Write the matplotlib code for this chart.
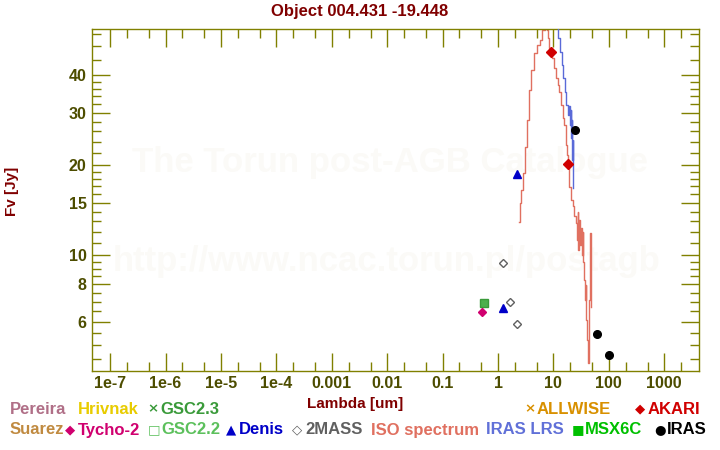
import matplotlib
matplotlib.use("Agg")
import matplotlib.pyplot as plt
from matplotlib.ticker import FixedLocator, NullFormatter

# data
iso_wl = [2.42, 2.49, 2.67, 2.86, 3.16, 3.43, 3.77, 4.10, 4.65, 5.32, 5.96, 6.55, 7.3,
          7.76, 8.09, 8.68, 9.96, 10.7, 11.5, 12.3, 13.2, 14.1, 15.1, 16.2, 16.9, 17.4,
          18.0, 18.6, 19.9, 21.4, 22.9, 24.5, 26.4, 27.2, 27.8, 28.7, 29.6, 30.6, 31.5,
          32.8, 34.2, 35.4, 36.4, 37.6, 38.8, 40.1, 41.3, 42.7, 43.9, 45.2, 46.4, 47.3]
iso_fx = [12.9, 14.9, 16.5, 18.8, 23.1, 28.3, 35.7, 41.7, 47.4, 50.5, 52.5, 56.7, 60.0,
          56.7, 53.2, 49.2, 45.6, 42.2, 39.1, 37.1, 35.3, 31.8, 28.7, 27.3, 25.3, 23.4,
          21.6, 20.2, 16.9, 15.3, 14.6, 13.5, 12.8, 11.25, 14.0, 10.4, 13.1, 10.8, 12.3,
          10.0, 12.0, 9.5, 8.26, 7.09, 7.96, 6.08, 5.21, 4.37, 6.08, 7.09, 11.9, 6.7]

lrs_wl = [11.8, 12.6, 14.1, 14.7, 15.5, 16.4, 17.4, 18.6, 19.4, 19.9, 20.8, 21.4, 21.8, 22.3, 22.6, 22.9]
lrs_fx = [60.0, 53.3, 48.0, 43.4, 39.1, 35.3, 31.8, 29.5, 31.6, 27.3, 30.6, 24.7, 28.3, 20.8, 24.3, 16.8]

tycho_wl, tycho_fx = [0.52], [6.44]
gsc_wl, gsc_fx = [0.566], [6.90]
denis_wl, denis_fx = [1.25, 2.20], [6.66, 18.7]
tmass_wl, tmass_fx = [1.25, 1.67, 2.23], [9.40, 6.97, 5.89]
akari_wl, akari_fx = [9.0, 18.0], [47.7, 20.2]
iras_wl, iras_fx = [25.0, 60.0, 100.0], [26.2, 5.45, 4.64]

x_major = [1e-7, 1e-6, 1e-5, 1e-4, 1e-3, 1e-2, 0.1, 1, 10, 100, 1000]
x_labels = ["1e-7", "1e-6", "1e-5", "1e-4", "0.001", "0.01", "0.1", "1", "10", "100", "1000"]
y_major = [6, 8, 10, 15, 20, 30, 40]
y_minor = [4.5, 5, 5.5, 6.5, 7, 7.5, 8.5, 9, 9.5, 11, 12, 13, 14, 16, 17, 18, 19,
           22, 24, 26, 28, 32, 34, 36, 38, 45, 50, 55]

OLIVE = "#808000"
TXT = "#4d4d00"
DRED = "#800000"
FONT = ["Liberation Sans", "DejaVu Sans"]

plt.rcParams['font.family'] = FONT
plt.rcParams['font.weight'] = 'bold'

fig = plt.figure(figsize=(7.2, 4.5), dpi=100)
ax = fig.add_axes([0.1282, 0.1762, 0.8431, 0.7587])
ax.set_xscale("log")
ax.set_yscale("log")
ax.set_xlim(4.75e-8, 4300)
ax.set_ylim(4.11, 57.0)

# watermark
ax.text(0.49, 0.61, "The Torun post-AGB Catalogue", transform=ax.transAxes, ha="center", va="center",
        fontsize=25, color="#fbfaf7", fontweight="bold", zorder=0)
ax.text(0.485, 0.32, "http://www.ncac.torun.pl/postagb", transform=ax.transAxes, ha="center", va="center",
        fontsize=25, color="#fbfaf7", fontweight="bold", zorder=0)

ax.plot(iso_wl, iso_fx, color="#e07060", lw=1.0, drawstyle="steps-mid", zorder=2)
ax.plot(lrs_wl, lrs_fx, color="#5a6ad8", lw=1.0, drawstyle="steps-mid", zorder=3)

ax.plot(gsc_wl, gsc_fx, "s", ms=5.5, color="#4cb04c", mec="#3a9a3a", zorder=4)
ax.plot(tycho_wl, tycho_fx, "D", ms=4.5, color="#d0006f", zorder=4)
ax.plot(denis_wl, denis_fx, "^", ms=6, color="#0000c8", zorder=4)
ax.plot(tmass_wl, tmass_fx, "D", ms=4, mfc="white", mec="#606060", mew=1.0, zorder=4)
ax.plot(akari_wl, akari_fx, "D", ms=5, color="#d00000", zorder=5)
ax.plot(iras_wl, iras_fx, "o", ms=5.5, color="black", zorder=5)

ax.xaxis.set_major_locator(FixedLocator(x_major))
ax.set_xticklabels(x_labels)
x_minor = []
for d in x_major:
    x_minor += [2 * d, 5 * d]
ax.xaxis.set_minor_locator(FixedLocator(x_minor))
ax.xaxis.set_minor_formatter(NullFormatter())
ax.yaxis.set_major_locator(FixedLocator(y_major))
ax.set_yticklabels([str(v) for v in y_major])
ax.yaxis.set_minor_locator(FixedLocator(y_minor))
ax.yaxis.set_minor_formatter(NullFormatter())

ax.tick_params(which="both", direction="in", top=True, right=True, color=OLIVE, width=1.0)
ax.tick_params(which="major", length=13, labelsize=11.5, labelcolor=TXT, pad=4)
ax.tick_params(which="minor", length=6.5)
for lab in ax.get_xticklabels() + ax.get_yticklabels():
    lab.set_fontweight("bold")
for s in ax.spines.values():
    s.set_color(OLIVE)
    s.set_linewidth(1.0)

fig.text(0.5, 0.975, "Object 004.431 -19.448", ha="center", va="center", fontsize=12,
         color=DRED, fontweight="bold")
fig.text(0.493, 0.103, "Lambda [um]", ha="center", va="center", fontsize=11, color=DRED, fontweight="bold")
fig.text(0.017, 0.575, "Fv [Jy]", ha="center", va="center", rotation=90, fontsize=11,
         color=DRED, fontweight="bold")

# legend drawn as coloured text, like the original page
row1 = 409
row2 = 430
legend_items = [
    (10, row1, None, "Pereira", "#b06f87"),
    (78, row1, None, "Hrivnak", "#e8cc00"),
    (147, row1, "×", "GSC2.3", "#3a9a3a"),
    (524, row1, "×", "ALLWISE", "#d89000"),
    (635, row1, "◆", "AKARI", "#d00000"),
    (10, row2, None, "Suarez", "#c08a40"),
    (65, row2, "◆", "Tycho-2", "#d0006f"),
    (148, row2, "□", "GSC2.2", "#5cc05c"),
    (226, row2, "▲", "Denis", "#0000c8"),
    (292, row2, "◇", "2MASS", "#606060"),
    (371, row2, None, "ISO spectrum", "#e07060"),
    (486, row2, None, "IRAS LRS", "#6070d8"),
    (572, row2, "■", "MSX6C", "#00c000"),
    (654, row2, "●", "IRAS", "black"),
]
for x, y, sym, lab, col in legend_items:
    fx = x / 720
    fy = 1 - y / 450
    if sym is not None:
        fig.text(fx, fy, sym, ha="left", va="center", fontsize=9.5, color=col,
                 family=["DejaVu Sans"], fontweight="bold")
        fx += 13 / 720
    fig.text(fx, fy, lab, ha="left", va="center", fontsize=12, color=col, fontweight="bold")

fig.savefig("out.png", dpi=100)
